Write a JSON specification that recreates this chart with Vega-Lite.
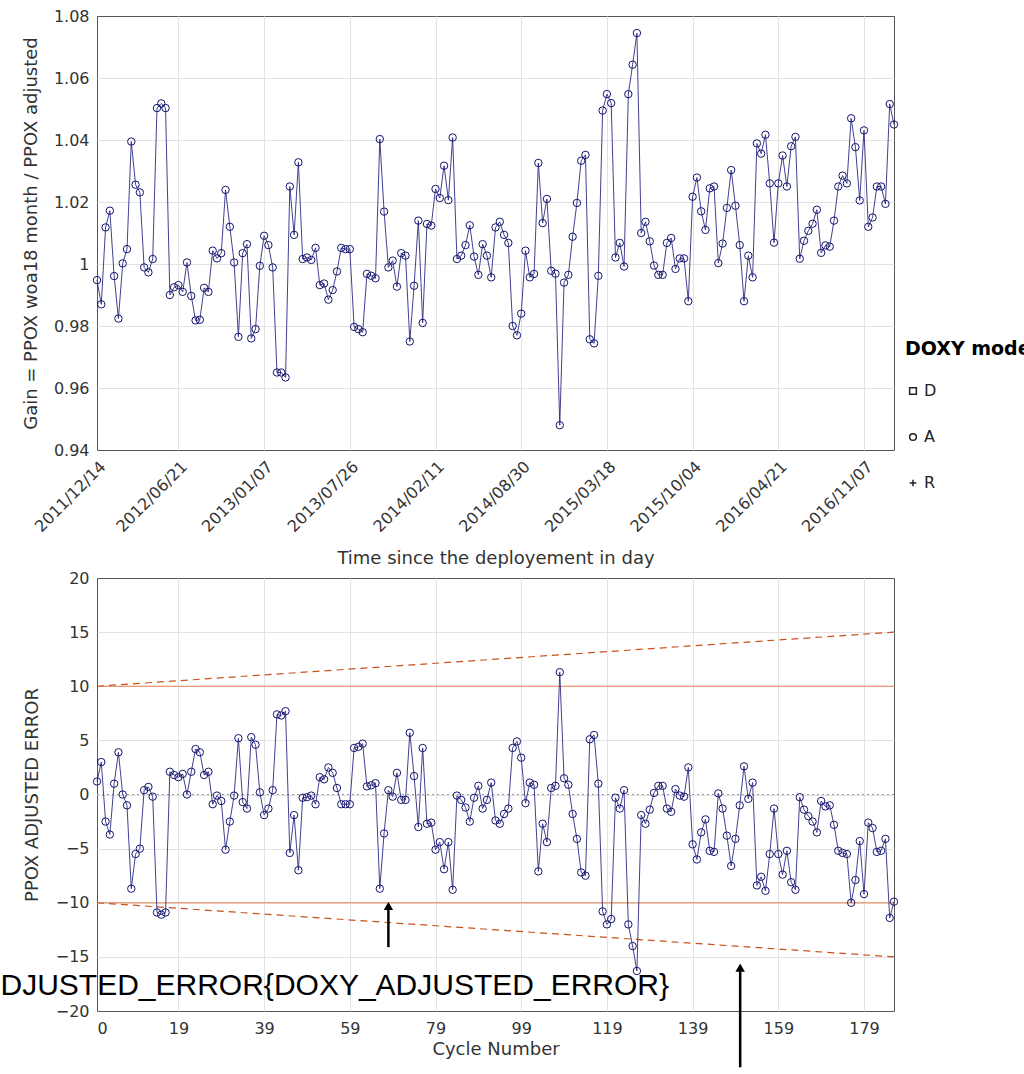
{
  "$schema": "https://vega.github.io/schema/vega-lite/v6.json",
  "padding": {"left": 0, "top": 7, "right": 0, "bottom": 0},
  "bounds": "flush",
  "spacing": 128,
  "background": "white",
  "datasets": {
    "gain": [
      {"cycle":0,"gain":0.9948,"mode":"A"},{"cycle":1,"gain":0.987,"mode":"A"},{"cycle":2,"gain":1.0118,"mode":"A"},{"cycle":3,"gain":1.0172,"mode":"A"},{"cycle":4,"gain":0.9961,"mode":"A"},
      {"cycle":5,"gain":0.9824,"mode":"A"},{"cycle":6,"gain":1.0002,"mode":"A"},{"cycle":7,"gain":1.0048,"mode":"A"},{"cycle":8,"gain":1.0395,"mode":"A"},{"cycle":9,"gain":1.0256,"mode":"A"},
      {"cycle":10,"gain":1.0231,"mode":"A"},{"cycle":11,"gain":0.9989,"mode":"A"},{"cycle":12,"gain":0.9973,"mode":"A"},{"cycle":13,"gain":1.0016,"mode":"A"},{"cycle":14,"gain":1.0503,"mode":"A"},
      {"cycle":15,"gain":1.0518,"mode":"A"},{"cycle":16,"gain":1.0503,"mode":"A"},{"cycle":17,"gain":0.990,"mode":"A"},{"cycle":18,"gain":0.9925,"mode":"A"},{"cycle":19,"gain":0.9932,"mode":"A"},
      {"cycle":20,"gain":0.991,"mode":"A"},{"cycle":21,"gain":1.0005,"mode":"A"},{"cycle":22,"gain":0.9897,"mode":"A"},{"cycle":23,"gain":0.9818,"mode":"A"},{"cycle":24,"gain":0.982,"mode":"A"},
      {"cycle":25,"gain":0.9923,"mode":"A"},{"cycle":26,"gain":0.991,"mode":"A"},{"cycle":27,"gain":1.0043,"mode":"A"},{"cycle":28,"gain":1.0018,"mode":"A"},{"cycle":29,"gain":1.0035,"mode":"A"},
      {"cycle":30,"gain":1.0239,"mode":"A"},{"cycle":31,"gain":1.012,"mode":"A"},{"cycle":32,"gain":1.0005,"mode":"A"},{"cycle":33,"gain":0.9765,"mode":"A"},{"cycle":34,"gain":1.0035,"mode":"A"},
      {"cycle":35,"gain":1.0064,"mode":"A"},{"cycle":36,"gain":0.976,"mode":"A"},{"cycle":37,"gain":0.979,"mode":"A"},{"cycle":38,"gain":0.9994,"mode":"A"},{"cycle":39,"gain":1.0091,"mode":"A"},
      {"cycle":40,"gain":1.0061,"mode":"A"},{"cycle":41,"gain":0.9989,"mode":"A"},{"cycle":42,"gain":0.965,"mode":"A"},{"cycle":43,"gain":0.965,"mode":"A"},{"cycle":44,"gain":0.9634,"mode":"A"},
      {"cycle":45,"gain":1.025,"mode":"A"},{"cycle":46,"gain":1.0094,"mode":"A"},{"cycle":47,"gain":1.0328,"mode":"A"},{"cycle":48,"gain":1.0016,"mode":"A"},{"cycle":49,"gain":1.0021,"mode":"A"},
      {"cycle":50,"gain":1.0013,"mode":"A"},{"cycle":51,"gain":1.0052,"mode":"A"},{"cycle":52,"gain":0.9932,"mode":"A"},{"cycle":53,"gain":0.9937,"mode":"A"},{"cycle":54,"gain":0.9885,"mode":"A"},
      {"cycle":55,"gain":0.9916,"mode":"A"},{"cycle":56,"gain":0.9976,"mode":"A"},{"cycle":57,"gain":1.0052,"mode":"A"},{"cycle":58,"gain":1.0048,"mode":"A"},{"cycle":59,"gain":1.0048,"mode":"A"},
      {"cycle":60,"gain":0.9797,"mode":"A"},{"cycle":61,"gain":0.979,"mode":"A"},{"cycle":62,"gain":0.978,"mode":"A"},{"cycle":63,"gain":0.9968,"mode":"A"},{"cycle":64,"gain":0.9962,"mode":"A"},
      {"cycle":65,"gain":0.9954,"mode":"A"},{"cycle":66,"gain":1.0403,"mode":"A"},{"cycle":67,"gain":1.0169,"mode":"A"},{"cycle":68,"gain":0.9989,"mode":"A"},{"cycle":69,"gain":1.0011,"mode":"A"},
      {"cycle":70,"gain":0.9927,"mode":"A"},{"cycle":71,"gain":1.0035,"mode":"A"},{"cycle":72,"gain":1.0027,"mode":"A"},{"cycle":73,"gain":0.975,"mode":"A"},{"cycle":74,"gain":0.993,"mode":"A"},
      {"cycle":75,"gain":1.014,"mode":"A"},{"cycle":76,"gain":0.981,"mode":"A"},{"cycle":77,"gain":1.0129,"mode":"A"},{"cycle":78,"gain":1.0124,"mode":"A"},{"cycle":79,"gain":1.0242,"mode":"A"},
      {"cycle":80,"gain":1.0213,"mode":"A"},{"cycle":81,"gain":1.0317,"mode":"A"},{"cycle":82,"gain":1.0206,"mode":"A"},{"cycle":83,"gain":1.0408,"mode":"A"},{"cycle":84,"gain":1.0016,"mode":"A"},
      {"cycle":85,"gain":1.0027,"mode":"A"},{"cycle":86,"gain":1.0061,"mode":"A"},{"cycle":87,"gain":1.0125,"mode":"A"},{"cycle":88,"gain":1.0024,"mode":"A"},{"cycle":89,"gain":0.9965,"mode":"A"},
      {"cycle":90,"gain":1.0064,"mode":"A"},{"cycle":91,"gain":1.0027,"mode":"A"},{"cycle":92,"gain":0.9957,"mode":"A"},{"cycle":93,"gain":1.0118,"mode":"A"},{"cycle":94,"gain":1.0136,"mode":"A"},
      {"cycle":95,"gain":1.0094,"mode":"A"},{"cycle":96,"gain":1.0068,"mode":"A"},{"cycle":97,"gain":0.980,"mode":"A"},{"cycle":98,"gain":0.977,"mode":"A"},{"cycle":99,"gain":0.984,"mode":"A"},
      {"cycle":100,"gain":1.0043,"mode":"A"},{"cycle":101,"gain":0.9957,"mode":"A"},{"cycle":102,"gain":0.9968,"mode":"A"},{"cycle":103,"gain":1.0326,"mode":"A"},{"cycle":104,"gain":1.0132,"mode":"A"},
      {"cycle":105,"gain":1.021,"mode":"A"},{"cycle":106,"gain":0.9978,"mode":"A"},{"cycle":107,"gain":0.9969,"mode":"A"},{"cycle":108,"gain":0.948,"mode":"A"},{"cycle":109,"gain":0.994,"mode":"A"},
      {"cycle":110,"gain":0.9965,"mode":"A"},{"cycle":111,"gain":1.0088,"mode":"A"},{"cycle":112,"gain":1.0197,"mode":"A"},{"cycle":113,"gain":1.0333,"mode":"A"},{"cycle":114,"gain":1.0352,"mode":"A"},
      {"cycle":115,"gain":0.9757,"mode":"A"},{"cycle":116,"gain":0.9744,"mode":"A"},{"cycle":117,"gain":0.9962,"mode":"A"},{"cycle":118,"gain":1.0495,"mode":"A"},{"cycle":119,"gain":1.0548,"mode":"A"},
      {"cycle":120,"gain":1.0519,"mode":"A"},{"cycle":121,"gain":1.0021,"mode":"A"},{"cycle":122,"gain":1.0068,"mode":"A"},{"cycle":123,"gain":0.9992,"mode":"A"},{"cycle":124,"gain":1.0548,"mode":"A"},
      {"cycle":125,"gain":1.0643,"mode":"A"},{"cycle":126,"gain":1.0745,"mode":"A"},{"cycle":127,"gain":1.01,"mode":"A"},{"cycle":128,"gain":1.0136,"mode":"A"},{"cycle":129,"gain":1.0073,"mode":"A"},
      {"cycle":130,"gain":0.9995,"mode":"A"},{"cycle":131,"gain":0.9965,"mode":"A"},{"cycle":132,"gain":0.9965,"mode":"A"},{"cycle":133,"gain":1.0068,"mode":"A"},{"cycle":134,"gain":1.0084,"mode":"A"},
      {"cycle":135,"gain":0.9984,"mode":"A"},{"cycle":136,"gain":1.0018,"mode":"A"},{"cycle":137,"gain":1.0018,"mode":"A"},{"cycle":138,"gain":0.988,"mode":"A"},{"cycle":139,"gain":1.0217,"mode":"A"},
      {"cycle":140,"gain":1.0279,"mode":"A"},{"cycle":141,"gain":1.017,"mode":"A"},{"cycle":142,"gain":1.011,"mode":"A"},{"cycle":143,"gain":1.0244,"mode":"A"},{"cycle":144,"gain":1.025,"mode":"A"},
      {"cycle":145,"gain":1.0003,"mode":"A"},{"cycle":146,"gain":1.0066,"mode":"A"},{"cycle":147,"gain":1.0181,"mode":"A"},{"cycle":148,"gain":1.0303,"mode":"A"},{"cycle":149,"gain":1.0188,"mode":"A"},
      {"cycle":150,"gain":1.0061,"mode":"A"},{"cycle":151,"gain":0.988,"mode":"A"},{"cycle":152,"gain":1.0027,"mode":"A"},{"cycle":153,"gain":0.9957,"mode":"A"},{"cycle":154,"gain":1.0389,"mode":"A"},
      {"cycle":155,"gain":1.0356,"mode":"A"},{"cycle":156,"gain":1.0417,"mode":"A"},{"cycle":157,"gain":1.026,"mode":"A"},{"cycle":158,"gain":1.0069,"mode":"A"},{"cycle":159,"gain":1.026,"mode":"A"},
      {"cycle":160,"gain":1.035,"mode":"A"},{"cycle":161,"gain":1.025,"mode":"A"},{"cycle":162,"gain":1.038,"mode":"A"},{"cycle":163,"gain":1.041,"mode":"A"},{"cycle":164,"gain":1.0017,"mode":"A"},
      {"cycle":165,"gain":1.0075,"mode":"A"},{"cycle":166,"gain":1.0107,"mode":"A"},{"cycle":167,"gain":1.013,"mode":"A"},{"cycle":168,"gain":1.0175,"mode":"A"},{"cycle":169,"gain":1.0036,"mode":"A"},
      {"cycle":170,"gain":1.006,"mode":"A"},{"cycle":171,"gain":1.0056,"mode":"A"},{"cycle":172,"gain":1.014,"mode":"A"},{"cycle":173,"gain":1.025,"mode":"A"},{"cycle":174,"gain":1.0285,"mode":"A"},
      {"cycle":175,"gain":1.026,"mode":"A"},{"cycle":176,"gain":1.047,"mode":"A"},{"cycle":177,"gain":1.0377,"mode":"A"},{"cycle":178,"gain":1.0205,"mode":"A"},{"cycle":179,"gain":1.0431,"mode":"A"},
      {"cycle":180,"gain":1.012,"mode":"A"},{"cycle":181,"gain":1.015,"mode":"A"},{"cycle":182,"gain":1.025,"mode":"A"},{"cycle":183,"gain":1.025,"mode":"A"},{"cycle":184,"gain":1.0194,"mode":"A"},
      {"cycle":185,"gain":1.0516,"mode":"A"},{"cycle":186,"gain":1.045,"mode":"A"}
    ],
    "err": [
      {"cycle":0,"err":1.2},{"cycle":1,"err":3.0},{"cycle":2,"err":-2.5},{"cycle":3,"err":-3.7},{"cycle":4,"err":1.0},
      {"cycle":5,"err":3.9},{"cycle":6,"err":0.0},{"cycle":7,"err":-1.0},{"cycle":8,"err":-8.7},{"cycle":9,"err":-5.5},
      {"cycle":10,"err":-5.0},{"cycle":11,"err":0.4},{"cycle":12,"err":0.7},{"cycle":13,"err":-0.2},{"cycle":14,"err":-10.9},
      {"cycle":15,"err":-11.1},{"cycle":16,"err":-10.9},{"cycle":17,"err":2.1},{"cycle":18,"err":1.8},{"cycle":19,"err":1.6},
      {"cycle":20,"err":1.9},{"cycle":21,"err":0.0},{"cycle":22,"err":2.1},{"cycle":23,"err":4.2},{"cycle":24,"err":3.9},
      {"cycle":25,"err":1.8},{"cycle":26,"err":2.1},{"cycle":27,"err":-0.9},{"cycle":28,"err":-0.1},{"cycle":29,"err":-0.6},
      {"cycle":30,"err":-5.1},{"cycle":31,"err":-2.5},{"cycle":32,"err":-0.1},{"cycle":33,"err":5.2},{"cycle":34,"err":-0.7},
      {"cycle":35,"err":-1.3},{"cycle":36,"err":5.3},{"cycle":37,"err":4.6},{"cycle":38,"err":0.2},{"cycle":39,"err":-1.9},
      {"cycle":40,"err":-1.3},{"cycle":41,"err":0.4},{"cycle":42,"err":7.4},{"cycle":43,"err":7.3},{"cycle":44,"err":7.7},
      {"cycle":45,"err":-5.4},{"cycle":46,"err":-1.9},{"cycle":47,"err":-7.0},{"cycle":48,"err":-0.3},{"cycle":49,"err":-0.25},
      {"cycle":50,"err":-0.1},{"cycle":51,"err":-0.9},{"cycle":52,"err":1.6},{"cycle":53,"err":1.4},{"cycle":54,"err":2.5},
      {"cycle":55,"err":2.0},{"cycle":56,"err":0.6},{"cycle":57,"err":-0.9},{"cycle":58,"err":-0.9},{"cycle":59,"err":-0.9},
      {"cycle":60,"err":4.3},{"cycle":61,"err":4.4},{"cycle":62,"err":4.7},{"cycle":63,"err":0.75},{"cycle":64,"err":0.85},
      {"cycle":65,"err":1.05},{"cycle":66,"err":-8.7},{"cycle":67,"err":-3.6},{"cycle":68,"err":0.4},{"cycle":69,"err":-0.2},
      {"cycle":70,"err":2.0},{"cycle":71,"err":-0.5},{"cycle":72,"err":-0.5},{"cycle":73,"err":5.7},{"cycle":74,"err":1.7},
      {"cycle":75,"err":-3.0},{"cycle":76,"err":4.3},{"cycle":77,"err":-2.7},{"cycle":78,"err":-2.6},{"cycle":79,"err":-5.1},
      {"cycle":80,"err":-4.4},{"cycle":81,"err":-6.9},{"cycle":82,"err":-4.4},{"cycle":83,"err":-8.8},{"cycle":84,"err":-0.1},
      {"cycle":85,"err":-0.5},{"cycle":86,"err":-1.2},{"cycle":87,"err":-2.5},{"cycle":88,"err":-0.3},{"cycle":89,"err":0.8},
      {"cycle":90,"err":-1.3},{"cycle":91,"err":-0.5},{"cycle":92,"err":1.1},{"cycle":93,"err":-2.4},{"cycle":94,"err":-2.7},
      {"cycle":95,"err":-1.8},{"cycle":96,"err":-1.3},{"cycle":97,"err":4.3},{"cycle":98,"err":4.9},{"cycle":99,"err":3.4},
      {"cycle":100,"err":-0.8},{"cycle":101,"err":1.1},{"cycle":102,"err":0.9},{"cycle":103,"err":-7.1},{"cycle":104,"err":-2.7},
      {"cycle":105,"err":-4.4},{"cycle":106,"err":0.6},{"cycle":107,"err":0.8},{"cycle":108,"err":11.3},{"cycle":109,"err":1.5},
      {"cycle":110,"err":0.9},{"cycle":111,"err":-1.8},{"cycle":112,"err":-4.1},{"cycle":113,"err":-7.2},{"cycle":114,"err":-7.5},
      {"cycle":115,"err":5.1},{"cycle":116,"err":5.5},{"cycle":117,"err":1.0},{"cycle":118,"err":-10.8},{"cycle":119,"err":-12.0},
      {"cycle":120,"err":-11.5},{"cycle":121,"err":-0.3},{"cycle":122,"err":-1.3},{"cycle":123,"err":0.4},{"cycle":124,"err":-12.0},
      {"cycle":125,"err":-14.0},{"cycle":126,"err":-16.3},{"cycle":127,"err":-1.9},{"cycle":128,"err":-2.7},{"cycle":129,"err":-1.4},
      {"cycle":130,"err":0.15},{"cycle":131,"err":0.8},{"cycle":132,"err":0.8},{"cycle":133,"err":-1.3},{"cycle":134,"err":-1.6},
      {"cycle":135,"err":0.5},{"cycle":136,"err":-0.1},{"cycle":137,"err":-0.2},{"cycle":138,"err":2.5},{"cycle":139,"err":-4.6},
      {"cycle":140,"err":-6.0},{"cycle":141,"err":-3.5},{"cycle":142,"err":-2.3},{"cycle":143,"err":-5.2},{"cycle":144,"err":-5.3},
      {"cycle":145,"err":0.1},{"cycle":146,"err":-1.3},{"cycle":147,"err":-3.8},{"cycle":148,"err":-6.6},{"cycle":149,"err":-4.1},
      {"cycle":150,"err":-1.0},{"cycle":151,"err":2.6},{"cycle":152,"err":-0.4},{"cycle":153,"err":1.1},{"cycle":154,"err":-8.4},
      {"cycle":155,"err":-7.6},{"cycle":156,"err":-8.9},{"cycle":157,"err":-5.5},{"cycle":158,"err":-1.3},{"cycle":159,"err":-5.5},
      {"cycle":160,"err":-7.4},{"cycle":161,"err":-5.2},{"cycle":162,"err":-8.1},{"cycle":163,"err":-8.8},{"cycle":164,"err":-0.25},
      {"cycle":165,"err":-1.4},{"cycle":166,"err":-2.0},{"cycle":167,"err":-2.5},{"cycle":168,"err":-3.5},{"cycle":169,"err":-0.6},
      {"cycle":170,"err":-1.1},{"cycle":171,"err":-1.0},{"cycle":172,"err":-2.8},{"cycle":173,"err":-5.2},{"cycle":174,"err":-5.4},
      {"cycle":175,"err":-5.5},{"cycle":176,"err":-10.0},{"cycle":177,"err":-7.9},{"cycle":178,"err":-4.3},{"cycle":179,"err":-9.2},
      {"cycle":180,"err":-2.6},{"cycle":181,"err":-3.1},{"cycle":182,"err":-5.3},{"cycle":183,"err":-5.2},{"cycle":184,"err":-4.1},
      {"cycle":185,"err":-11.4},{"cycle":186,"err":-9.9}
    ],
    "limits": [{"err":10},{"err":-10}],
    "growing": [
      {"cycle":0,"err":10,"side":"upper"},{"cycle":186,"err":15,"side":"upper"},
      {"cycle":0,"err":-10,"side":"lower"},{"cycle":186,"err":-15,"side":"lower"}
    ],
    "note": [{"label":"DJUSTED_ERROR{DOXY_ADJUSTED_ERROR}"}]
  },
  "vconcat": [
    {
      "width": 797,
      "height": 434,
      "data": {"name": "gain"},
      "layer": [
        {
          "mark": {"type": "line", "color": "#2b2b85", "strokeWidth": 0.9},
          "encoding": {
            "x": {"field": "cycle", "type": "quantitative", "title": "Time since the deployement in day",
              "scale": {"domain": [0, 186], "nice": false, "zero": false},
              "axis": {"values": [0,19,39,59,79,99,119,139,159,179],
                "labelExpr": "['2011/12/14','2012/06/21','2013/01/07','2013/07/26','2014/02/11','2014/08/30','2015/03/18','2015/10/04','2016/04/21','2016/11/07'][indexof([0,19,39,59,79,99,119,139,159,179], datum.value)]",
                "labelAngle": -45, "labelAlign": "right", "labelBaseline": "top", "labelPadding": 8,
                "gridColor": {"condition": {"test": "datum.value <= 0", "value": "transparent"}, "value": "#e2e2e2"},
                "titleY": 113, "titleBaseline": "alphabetic"}},
            "y": {"field": "gain", "type": "quantitative", "title": "Gain = PPOX woa18 month / PPOX adjusted",
              "scale": {"domain": [0.94, 1.08], "nice": false, "zero": false},
              "axis": {"values": [0.94,0.96,0.98,1,1.02,1.04,1.06,1.08],
                "labelExpr": "datum.value == 1 ? '1' : format(datum.value, '.2f')",
                "gridColor": {"condition": {"test": "datum.value < 0.945 || datum.value > 1.075", "value": "transparent"}, "value": "#e2e2e2"},
                "titlePadding": 13}}
          }
        },
        {
          "mark": {"type": "point", "filled": false, "stroke": "#14146e", "strokeWidth": 1, "size": 55, "opacity": 1},
          "encoding": {
            "x": {"field": "cycle", "type": "quantitative", "title": "Time since the deployement in day"},
            "y": {"field": "gain", "type": "quantitative", "title": "Gain = PPOX woa18 month / PPOX adjusted"},
            "shape": {"field": "mode", "type": "nominal",
              "scale": {"domain": ["D", "A", "R"], "range": ["square", "circle", "M-1,0L1,0M0,-1L0,1"]},
              "legend": {"title": "DOXY mode", "orient": "none", "legendX": 808, "legendY": 324,
                "titleFont": "DejaVu Sans", "titleFontSize": 19, "titleFontWeight": "bold", "titleColor": "#000",
                "titlePadding": 24, "labelFont": "DejaVu Sans", "labelFontSize": 16, "labelColor": "#222",
                "rowPadding": 30, "symbolSize": 45, "symbolStrokeColor": "#222", "symbolStrokeWidth": 1.5,
                "labelOffset": 3}}
          }
        }
      ]
    },
    {
      "width": 797,
      "height": 433,
      "layer": [
        {
          "data": {"name": "limits"},
          "mark": {"type": "rule", "color": "#e8834f", "strokeWidth": 1.2},
          "encoding": {
            "y": {"field": "err", "type": "quantitative", "title": "PPOX ADJUSTED ERROR",
              "scale": {"domain": [-20, 20], "nice": false, "zero": false},
              "axis": {"values": [-20,-15,-10,-5,0,5,10,15,20], "titlePadding": 14,
                "gridColor": {"condition": {"test": "abs(datum.value) >= 20", "value": "transparent"}, "value": "#e2e2e2"}}}
          }
        },
        {
          "data": {"name": "growing"},
          "mark": {"type": "line", "color": "#c8521c", "strokeWidth": 1.2, "strokeDash": [7, 5]},
          "encoding": {
            "x": {"field": "cycle", "type": "quantitative", "title": "Cycle Number",
              "scale": {"domain": [0, 186], "nice": false, "zero": false},
              "axis": {"values": [0,19,39,59,79,99,119,139,159,179], "labelPadding": 9,
                "gridColor": {"condition": {"test": "datum.value <= 0", "value": "transparent"}, "value": "#e2e2e2"},
                "titleY": 43, "titleBaseline": "alphabetic"}},
            "y": {"field": "err", "type": "quantitative", "title": "PPOX ADJUSTED ERROR"},
            "detail": {"field": "side", "type": "nominal"}
          }
        },
        {
          "data": {"name": "note"},
          "mark": {"type": "rule", "color": "#9a9a9a", "strokeWidth": 1, "strokeDash": [2, 3]},
          "encoding": {"y": {"datum": 0, "type": "quantitative"}}
        },
        {
          "data": {"name": "err"},
          "mark": {"type": "line", "color": "#2b2b85", "strokeWidth": 0.9},
          "encoding": {
            "x": {"field": "cycle", "type": "quantitative", "title": "Cycle Number"},
            "y": {"field": "err", "type": "quantitative", "title": "PPOX ADJUSTED ERROR"}
          }
        },
        {
          "data": {"name": "err"},
          "mark": {"type": "point", "shape": "circle", "filled": false, "stroke": "#14146e", "strokeWidth": 1, "size": 55, "opacity": 1},
          "encoding": {
            "x": {"field": "cycle", "type": "quantitative", "title": "Cycle Number"},
            "y": {"field": "err", "type": "quantitative", "title": "PPOX ADJUSTED ERROR"}
          }
        },
        {
          "data": {"name": "note"},
          "mark": {"type": "text", "font": "Liberation Sans", "fontSize": 30, "color": "#000", "align": "left", "baseline": "alphabetic"},
          "encoding": {
            "x": {"datum": -22.52, "type": "quantitative"},
            "y": {"datum": -18.5, "type": "quantitative"},
            "text": {"field": "label"}
          }
        },
        {
          "data": {"name": "note"},
          "mark": {"type": "rule", "color": "#000", "strokeWidth": 2.5},
          "encoding": {
            "x": {"datum": 68.0, "type": "quantitative"},
            "y": {"datum": -14.1, "type": "quantitative"},
            "y2": {"datum": -10.4}
          }
        },
        {
          "data": {"name": "note"},
          "mark": {"type": "point", "shape": "triangle-up", "filled": true, "color": "#000", "size": 90, "opacity": 1},
          "encoding": {
            "x": {"datum": 68.0, "type": "quantitative"},
            "y": {"datum": -10.3, "type": "quantitative"}
          }
        },
        {
          "data": {"name": "note"},
          "mark": {"type": "rule", "color": "#000", "strokeWidth": 2.5},
          "encoding": {
            "x": {"datum": 150.1, "type": "quantitative"},
            "y": {"datum": -25.2, "type": "quantitative"},
            "y2": {"datum": -16.1}
          }
        },
        {
          "data": {"name": "note"},
          "mark": {"type": "point", "shape": "triangle-up", "filled": true, "color": "#000", "size": 90, "opacity": 1},
          "encoding": {
            "x": {"datum": 150.1, "type": "quantitative"},
            "y": {"datum": -16.0, "type": "quantitative"}
          }
        }
      ]
    }
  ],
  "config": {
    "view": {"stroke": "#555555", "strokeWidth": 1},
    "axis": {
      "domain": false, "ticks": false, "grid": true, "gridWidth": 1,
      "labelFont": "DejaVu Sans", "labelFontSize": 16, "labelColor": "#333", "labelPadding": 8, "labelOverlap": false,
      "titleFont": "DejaVu Sans", "titleFontSize": 18, "titleFontWeight": "normal", "titleColor": "#333"
    }
  }
}
